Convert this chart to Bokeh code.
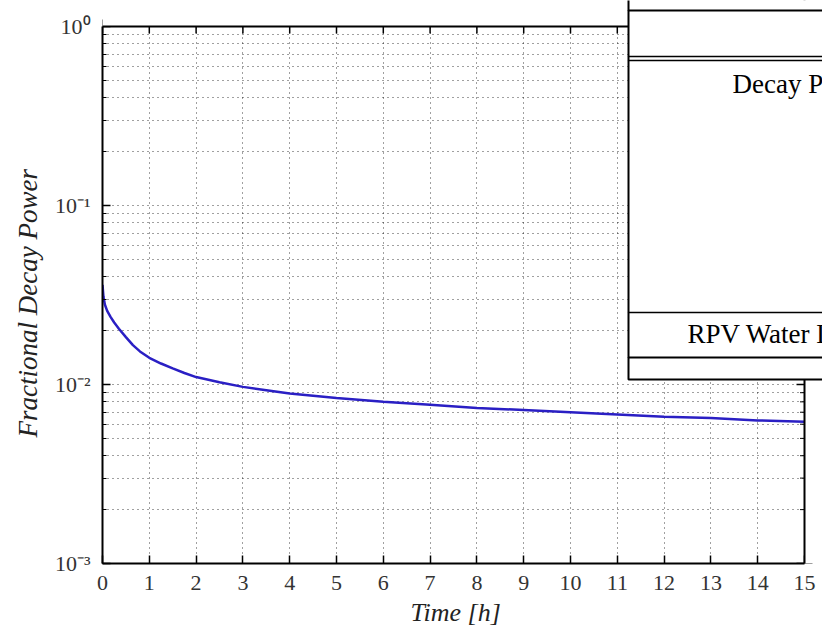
import math
from bokeh.plotting import figure
from bokeh.models import FixedTicker, BoxAnnotation, Label, Span, Range1d, Title
from bokeh.embed import file_html
from bokeh.resources import INLINE

# ---- data ----
hours = [0, 0.02, 0.05, 0.1, 0.175, 0.25, 0.35, 0.5, 0.65, 0.8, 1.0, 1.25,
         1.5, 1.75, 2, 2.5, 3, 3.5, 4, 4.5, 5, 6, 7, 8, 9, 10, 11, 12, 13,
         14, 15]
decay_power = [0.036, 0.031, 0.028, 0.0258, 0.0238, 0.0222, 0.0205, 0.0184,
               0.0166, 0.0153, 0.0141, 0.0131, 0.0123, 0.0116, 0.0110,
               0.0103, 0.0097, 0.0093, 0.0089, 0.00865, 0.0084, 0.0080,
               0.0077, 0.0074, 0.0072, 0.0070, 0.0068, 0.0066, 0.0065,
               0.0063, 0.0062]
x_ticks = list(range(0, 16))
y_ticks = [1e-3, 1e-2, 1e-1, 1.0]
y_minor_ticks = [m * 10.0 ** e for e in (-3, -2, -1) for m in range(2, 10)]
y_tick_labels = {1e-3: "10\u207b\u00b3", 1e-2: "10\u207b\u00b2",
                 1e-1: "10\u207b\u00b9", 1.0: "10\u2070"}
x_label = "Time [h]"
y_label = "Fractional Decay Power"
table_texts = ["Decay Power", "RPV Water Level"]

SERIF = "Liberation Serif"

# ---- layout (pixels) ----
W, H = 822, 636
LEFT, BOTTOM = 102, 563          # frame left / bottom edge
X_AT_END, Y_AT_TOP = 804, 26     # where x=15 and y=1 sit
x_min, x_max = x_ticks[0], x_ticks[-1]
y_min, y_max = y_ticks[0], y_ticks[-1]
x_end = x_max * (W - LEFT) / (X_AT_END - LEFT)
dec_px = (BOTTOM - Y_AT_TOP) / math.log10(y_max / y_min)
y_end = y_max * 10 ** (Y_AT_TOP / dec_px)

p = figure(width=W, height=H, y_axis_type="log",
           x_range=Range1d(x_min, x_end), y_range=Range1d(y_min, y_end),
           output_backend="svg", toolbar_location=None,
           min_border_left=LEFT, min_border_top=0, min_border_right=0,
           min_border_bottom=H - BOTTOM)
p.outline_line_color = None

# grid
for g in (p.xgrid[0], p.ygrid[0]):
    g.grid_line_color = "black"
    g.grid_line_dash = "1 4"
    g.grid_line_alpha = 0.75
p.ygrid.minor_grid_line_color = "black"
p.ygrid.minor_grid_line_dash = "1 4"
p.ygrid.minor_grid_line_alpha = 0.75

# curve
p.line(hours, decay_power, line_color="#2a1fc4", line_width=2.5)

# mirrored ticks on top and right edges
p.scatter(x_ticks, [y_max] * len(x_ticks), marker="dash", angle=math.pi / 2,
          size=14, line_color="black", line_width=1.5)
p.scatter([x_max] * len(y_ticks), y_ticks, marker="dash", size=16,
          line_color="black", line_width=1.5)
p.scatter([x_max] * len(y_minor_ticks), y_minor_ticks, marker="dash", size=9,
          line_color="black", line_width=1)

# axes
p.xaxis.ticker = FixedTicker(ticks=x_ticks)
p.yaxis.ticker = FixedTicker(ticks=y_ticks, minor_ticks=y_minor_ticks)
p.yaxis.major_label_overrides = y_tick_labels
p.xaxis.bounds = (x_min, x_max)
p.yaxis.bounds = (y_min, y_max)

for ax in (p.xaxis[0], p.yaxis[0]):
    ax.axis_line_color = "black"
    ax.axis_line_width = 2
    ax.major_tick_in = 8
    ax.major_tick_out = 0
    ax.major_tick_line_color = "black"
    ax.major_tick_line_width = 1.5
    ax.minor_tick_in = 4
    ax.minor_tick_out = 0
    ax.minor_tick_line_color = "black"
    ax.major_label_text_font = SERIF
    ax.major_label_text_font_size = "22px"
    ax.major_label_text_color = "#333333"

p.xaxis.major_label_standoff = 12
p.yaxis.major_label_standoff = 12

# axis titles, placed relative to the axes box (x 0..15, y 1e-3..1)
p.add_layout(Title(text=x_label, align="left", offset=308, standoff=6,
                   text_font=SERIF, text_font_style="italic",
                   text_font_size="26px", text_color="#222222"), "below")
p.add_layout(Title(text=y_label, align="left", offset=126, standoff=17,
                   text_font=SERIF, text_font_style="italic",
                   text_font_size="27px", text_color="#222222"), "left")

# white covers outside the axes box (above y=1 and right of x=15)
p.add_layout(BoxAnnotation(bottom=y_max, fill_color="white", fill_alpha=1,
                           line_alpha=0))
p.add_layout(BoxAnnotation(left=x_max, fill_color="white", fill_alpha=1,
                           line_alpha=0))
# top and right borders of the axes box
p.add_layout(Span(location=y_max, dimension="width", line_color="black",
                  line_width=2))
p.add_layout(Span(location=x_max, dimension="height", line_color="black",
                  line_width=2))

# overlapping table fragment at top right (canvas coordinates)
def cbox(top, bottom, lw, fill):
    return BoxAnnotation(left=628, right=840, top=top, bottom=bottom,
                         left_units="canvas", right_units="canvas",
                         top_units="canvas", bottom_units="canvas",
                         fill_color="white", fill_alpha=1 if fill else 0,
                         line_color="black", line_alpha=1, line_width=lw)

p.add_layout(cbox(-10, 379, 2, True))
for yy, lw in ((10, 2), (56, 1.5), (60, 1.5), (312, 1.5), (357, 2)):
    p.add_layout(cbox(yy, yy + 0.01, lw, False))
p.add_layout(Label(x=732, y=83, x_units="canvas", y_units="canvas",
                   text=table_texts[0], text_font=SERIF, text_font_size="27px",
                   text_baseline="middle", text_color="black"))
p.add_layout(Label(x=687, y=333, x_units="canvas", y_units="canvas",
                   text=table_texts[1], text_font=SERIF, text_font_size="27px",
                   text_baseline="middle", text_color="black"))

open("out.html", "w").write(file_html(p, INLINE))
